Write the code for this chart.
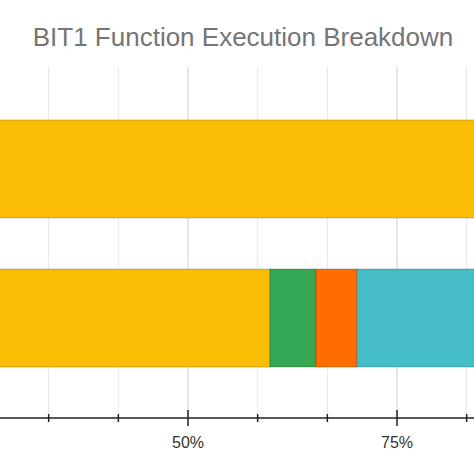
<!DOCTYPE html>
<html>
<head>
<meta charset="utf-8">
<script src="https://cdn.jsdelivr.net/npm/d3@7"></script>
<style>
  body { margin: 0; background: #fff; }
  svg { display: block; font-family: "Liberation Sans", Arial, sans-serif; }
</style>
</head>
<body>
<script>
// DATA

// the two runs shown as horizontal bars
const runs = ["Run A", "Run B"];
// functions stacked inside each bar, in drawing order
const functions = ["main loop", "mover", "collisions", "output"];
// share of execution time (%) per function, one array per run
const runA = [100, 0, 0, 0];
const runB = [59.8, 5.5, 4.9, 29.8];
// x axis ticks, every twelfth, labelled each quarter
const tickValues = d3.range(0, 13).map((i) => i / 12);
const labelValues = [0, 0.25, 0.5, 0.75, 1];
const colors = ["#fbbc04", "#34a853", "#ff6d01", "#46bdc6"];

// SVG

const w = 474, h = 474;

const svg = d3
  .select("body")
  .append("svg")
  .attr("width", w)
  .attr("height", h);

// title
svg
  .append("text")
  .attr("x", 243)
  .attr("y", 46)
  .attr("text-anchor", "middle")
  .attr("font-size", 26)
  .attr("fill", "#757575")
  .text("BIT1 Function Execution Breakdown");

// the chart is zoomed in: 50% sits at x=188 and 75% at x=397
const x = d3
  .scaleLinear()
  .domain([0, 1])
  .range([188 - 2 * 209, 188 + 2 * 209]);

const y = d3
  .scaleBand()
  .domain(runs)
  .range([94.5, 392.5])
  .paddingInner(0.342)
  .paddingOuter(0.171);

const axisY = 418;
const isMajor = (d) => labelValues.some((v) => Math.abs(v - d) < 1e-9);

// gridlines
svg
  .append("g")
  .selectAll("line")
  .data(tickValues)
  .enter()
  .append("line")
  .attr("x1", (d) => x(d))
  .attr("x2", (d) => x(d))
  .attr("y1", 67)
  .attr("y2", axisY)
  .attr("stroke", (d) => isMajor(d) ? "#cfcfcf" : "#e6e6e6")
  .attr("stroke-width", 1);

// stack the values, percentages become fractions
const rows = [runA, runB].map((vals, r) => {
  const row = { run: runs[r] };
  functions.forEach((f, i) => (row[f] = vals[i] / 100));
  return row;
});

const stack = d3.stack().keys(functions);
const series = stack(rows);

svg
  .append("g")
  .selectAll("g")
  .data(series)
  .enter()
  .append("g")
  .attr("fill", (d, i) => colors[i])
  .selectAll("rect")
  .data((d) => d.filter((p) => p[1] > p[0]))
  .enter()
  .append("rect")
  .attr("x", (d) => x(d[0]))
  .attr("y", (d) => y(d.data.run))
  .attr("width", (d) => x(d[1]) - x(d[0]))
  .attr("height", y.bandwidth())
  .attr("stroke", "rgba(0,0,0,0.2)")
  .attr("stroke-width", 1);

// x axis: minor ticks every twelfth, longer labelled ticks each quarter
const axis = svg
  .append("g")
  .attr("transform", `translate(0, ${axisY})`);

axis
  .append("line")
  .attr("x1", 0)
  .attr("x2", w)
  .attr("stroke", "#222")
  .attr("stroke-width", 1.5);

axis
  .selectAll("line.tick")
  .data(tickValues)
  .enter()
  .append("line")
  .attr("class", "tick")
  .attr("x1", (d) => x(d))
  .attr("x2", (d) => x(d))
  .attr("y1", (d) => isMajor(d) ? -8 : -4)
  .attr("y2", (d) => isMajor(d) ? 8 : 4)
  .attr("stroke", "#222")
  .attr("stroke-width", 1.5);

// only the labels that fall inside the visible window are drawn
axis
  .selectAll("text")
  .data(labelValues.filter((d) => x(d) > 20 && x(d) < w - 20))
  .enter()
  .append("text")
  .attr("x", (d) => x(d))
  .attr("y", 30)
  .attr("text-anchor", "middle")
  .attr("font-size", 16)
  .attr("fill", "#333")
  .text(d3.format(".0%"));
</script>
</body>
</html>
